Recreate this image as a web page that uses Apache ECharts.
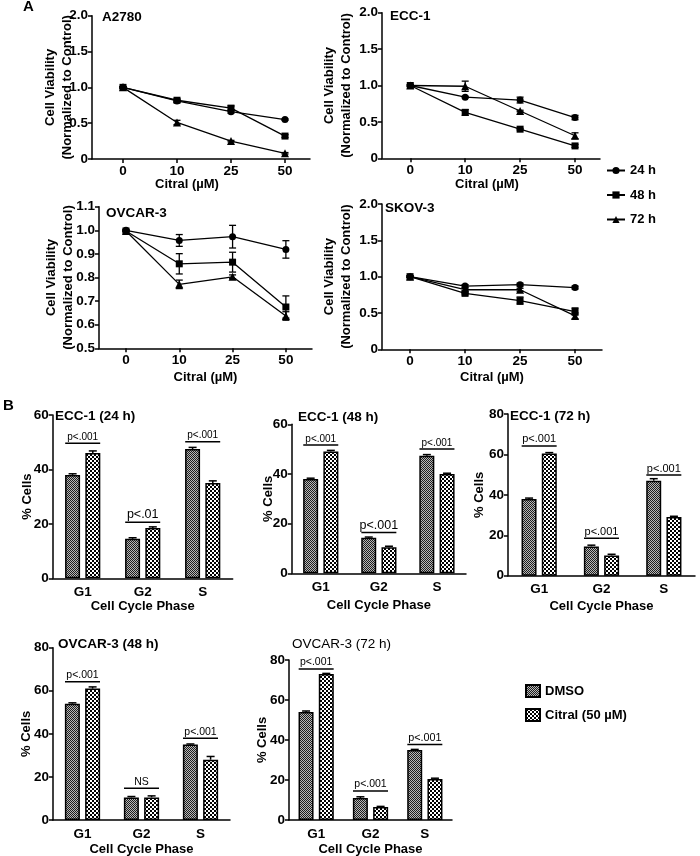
<!DOCTYPE html>
<html><head><meta charset="utf-8">
<script src="https://cdn.jsdelivr.net/npm/echarts@6/dist/echarts.min.js"></script>
<style>html,body{margin:0;padding:0;background:#fff}#c{width:700px;height:856px}</style>
</head><body><div id="c"></div>
<script>
// ---------- DATA ----------
const doses = ['0', '10', '25', '50'];
const timeNames = ['24 h', '48 h', '72 h'];
const phases = ['G1', 'G2', 'S'];
const treatNames = ['DMSO', 'Citral (50 µM)'];

// Panel A: cell viability (normalized to control)
const a2780_24h = [1.00, 0.81, 0.66, 0.55];
const a2780_48h = [1.00, 0.82, 0.71, 0.32];
const a2780_72h = [1.00, 0.51, 0.25, 0.08];
const a2780_24hErr = [0.01, 0.02, 0.02, 0.01];
const a2780_48hErr = [0.01, 0.02, 0.03, 0.02];
const a2780_72hErr = [0.01, 0.03, 0.01, 0.01];

const ecc1_24h = [1.00, 0.84, 0.80, 0.56];
const ecc1_48h = [1.00, 0.63, 0.40, 0.17];
const ecc1_72h = [1.00, 0.99, 0.65, 0.31];
const ecc1_24hErr = [0.01, 0.01, 0.04, 0.03];
const ecc1_48hErr = [0.01, 0.04, 0.01, 0.02];
const ecc1_72hErr = [0.01, 0.07, 0.01, 0.04];

const ovcar3_24h = [1.000, 0.957, 0.973, 0.919];
const ovcar3_48h = [0.997, 0.858, 0.865, 0.675];
const ovcar3_72h = [0.997, 0.771, 0.803, 0.637];
const ovcar3_24hErr = [0.003, 0.025, 0.048, 0.037];
const ovcar3_48hErr = [0.003, 0.043, 0.042, 0.047];
const ovcar3_72hErr = [0.003, 0.018, 0.008, 0.018];

const skov3_24h = [1.00, 0.87, 0.89, 0.85];
const skov3_48h = [1.00, 0.77, 0.67, 0.52];
const skov3_72h = [1.00, 0.82, 0.82, 0.46];
const skov3_24hErr = [0.01, 0.02, 0.02, 0.02];
const skov3_48hErr = [0.01, 0.02, 0.05, 0.05];
const skov3_72hErr = [0.01, 0.02, 0.02, 0.04];

// Panel B: % cells per cell-cycle phase
const ecc1_24_dmso = [38.0, 14.5, 47.5];
const ecc1_24_citral = [46.0, 18.5, 35.0];
const ecc1_24_dmsoErr = [0.4, 0.4, 0.6];
const ecc1_24_citralErr = [0.8, 0.4, 0.8];
const ecc1_24_sigY = [49.6, 20.6, 50.2];
const ecc1_24_sigText = ['p<.001', 'p<.01', 'p<.001'];

const ecc1_48_dmso = [38.0, 14.3, 47.3];
const ecc1_48_citral = [49.0, 10.5, 40.0];
const ecc1_48_dmsoErr = [0.3, 0.3, 0.5];
const ecc1_48_citralErr = [0.5, 0.4, 0.3];
const ecc1_48_sigY = [51.7, 16.4, 50.1];
const ecc1_48_sigText = ['p<.001', 'p<.001', 'p<.001'];

const ecc1_72_dmso = [38.0, 14.5, 47.0];
const ecc1_72_citral = [60.5, 10.0, 29.0];
const ecc1_72_dmsoErr = [0.4, 0.6, 1.0];
const ecc1_72_citralErr = [0.4, 0.6, 0.4];
const ecc1_72_sigY = [64.2, 18.5, 49.8];
const ecc1_72_sigText = ['p<.001', 'p<.001', 'p<.001'];

const ovcar3_48_dmso = [54.0, 10.5, 35.0];
const ovcar3_48_citral = [61.0, 10.5, 28.0];
const ovcar3_48_dmsoErr = [0.4, 0.4, 0.3];
const ovcar3_48_citralErr = [0.8, 0.7, 1.5];
const ovcar3_48_sigY = [64.2, 14.7, 37.9];
const ovcar3_48_sigText = ['p<.001', 'NS', 'p<.001'];

const ovcar3_72_dmso = [54.0, 11.0, 35.0];
const ovcar3_72_citral = [73.0, 6.5, 20.5];
const ovcar3_72_dmsoErr = [0.5, 0.6, 0.3];
const ovcar3_72_citralErr = [0.3, 0.3, 0.4];
const ovcar3_72_sigY = [75.5, 14.5, 37.8];
const ovcar3_72_sigText = ['p<.001', 'p<.001', 'p<.001'];

// ---------- LAYOUT / STYLE ----------
const FONT = "'Liberation Sans', Arial, Helvetica, sans-serif";
const bold13 = {fontFamily: FONT, fontSize: 13, fontWeight: 'bold', color: '#000'};
const tick13 = {fontFamily: FONT, fontSize: 13.5, fontWeight: 'bold', color: '#000'};
const axisLineStyle = {color: '#000', width: 1.5};

const linePanels = [
  {title: 'A2780', vals: [a2780_24h, a2780_48h, a2780_72h], errs: [a2780_24hErr, a2780_48hErr, a2780_72hErr],
   box: {left: 92, top: 15.7, width: 218, height: 143.3}, xmin: -0.574, xmax: 3.463, ymin: 0, ymax: 2, yint: 0.5,
   yGap: 16, xGap: 19, xPad: [0, 28, 0, 0], tx: 102, ty: 18},
  {title: 'ECC-1', vals: [ecc1_24h, ecc1_48h, ecc1_72h], errs: [ecc1_24hErr, ecc1_48hErr, ecc1_72hErr],
   box: {left: 382, top: 12.7, width: 218, height: 145.6}, xmin: -0.515, xmax: 3.455, ymin: 0, ymax: 2, yint: 0.5,
   yGap: 27, xGap: 20, xPad: [0, 8, 0, 0], tx: 390, ty: 17.5},
  {title: 'OVCAR-3', vals: [ovcar3_24h, ovcar3_48h, ovcar3_72h], errs: [ovcar3_24hErr, ovcar3_48hErr, ovcar3_72hErr],
   box: {left: 99, top: 206.7, width: 213, height: 141.6}, xmin: -0.506, xmax: 3.49, ymin: 0.5, ymax: 1.1, yint: 0.1,
   yGap: 22, xGap: 23, xPad: [0, 0, 0, 0], tx: 106, ty: 214},
  {title: 'SKOV-3', vals: [skov3_24h, skov3_48h, skov3_72h], errs: [skov3_24hErr, skov3_48hErr, skov3_72hErr],
   box: {left: 382, top: 204, width: 220, height: 145.3}, xmin: -0.51, xmax: 3.49, ymin: 0, ymax: 2, yint: 0.5,
   yGap: 27, xGap: 22, xPad: [0, 0, 0, 0], tx: 385, ty: 209}
];

const barPanels = [
  {title: 'ECC-1 (24 h)', dmso: ecc1_24_dmso, citral: ecc1_24_citral, dErr: ecc1_24_dmsoErr, cErr: ecc1_24_citralErr,
   sigY: ecc1_24_sigY, sigText: ecc1_24_sigText, sigFont: [10, 12.5, 10],
   box: {left: 52.7, top: 415, width: 180, height: 163.3}, ymax: 60, yGap: 19, xGap: 22, tx: 55, ty: 417, tw: 'bold'},
  {title: 'ECC-1 (48 h)', dmso: ecc1_48_dmso, citral: ecc1_48_citral, dErr: ecc1_48_dmsoErr, cErr: ecc1_48_citralErr,
   sigY: ecc1_48_sigY, sigText: ecc1_48_sigText, sigFont: [10, 12.5, 10],
   box: {left: 291.7, top: 424.3, width: 174.3, height: 149}, ymax: 60, yGap: 17, xGap: 26, tx: 298, ty: 418, tw: 'bold'},
  {title: 'ECC-1 (72 h)', dmso: ecc1_72_dmso, citral: ecc1_72_citral, dErr: ecc1_72_dmsoErr, cErr: ecc1_72_citralErr,
   sigY: ecc1_72_sigY, sigText: ecc1_72_sigText, sigFont: [11, 11, 11],
   box: {left: 508, top: 414, width: 187, height: 161.7}, ymax: 80, yGap: 22, xGap: 24, tx: 510, ty: 417, tw: 'bold'},
  {title: 'OVCAR-3 (48 h)', dmso: ovcar3_48_dmso, citral: ovcar3_48_citral, dErr: ovcar3_48_dmsoErr, cErr: ovcar3_48_citralErr,
   sigY: ovcar3_48_sigY, sigText: ovcar3_48_sigText, sigFont: [10.5, 10.5, 10.5],
   box: {left: 53, top: 647.7, width: 177, height: 172.3}, ymax: 80, yGap: 20, xGap: 23, tx: 58, ty: 645, tw: 'bold'},
  {title: 'OVCAR-3 (72 h)', dmso: ovcar3_72_dmso, citral: ovcar3_72_citral, dErr: ovcar3_72_dmsoErr, cErr: ovcar3_72_citralErr,
   sigY: ovcar3_72_sigY, sigText: ovcar3_72_sigText, sigFont: [10.5, 10.5, 10.8],
   box: {left: 289, top: 660, width: 163, height: 160}, ymax: 80, yGap: 20, xGap: 23, tx: 292, ty: 645, tw: 'normal'}
];

const symbols = ['circle', 'rect', 'triangle'];
const symSizes = [7, 7, 8];
const BAR_W = 15, BAR_GAP = '35%', PAIR_OFF = 10.1;

function makePattern(cell, size, a, b) {
  const c = document.createElement('canvas');
  c.width = c.height = size;
  const g = c.getContext('2d');
  for (let y = 0; y < size; y++) for (let x = 0; x < size; x++) {
    g.fillStyle = (((x / cell | 0) + (y / cell | 0)) % 2 === 0) ? a : b;
    g.fillRect(x, y, 1, 1);
  }
  return c;
}
const patDMSO = {image: makePattern(1, 2, '#1e1e1e', '#b8b8b8'), repeat: 'repeat'};
const patCitral = {image: makePattern(2, 4, '#000', '#fff'), repeat: 'repeat'};

function errRender(params, api) {
  const x = api.value(0), y = api.value(1), e = api.value(2);
  const t = api.coord([x, y + e]), b = api.coord([x, y - e]);
  const w = 3.5, st = {stroke: '#000', lineWidth: 1.3};
  return {type: 'group', children: [
    {type: 'line', shape: {x1: t[0], y1: t[1], x2: b[0], y2: b[1]}, style: st},
    {type: 'line', shape: {x1: t[0] - w, y1: t[1], x2: t[0] + w, y2: t[1]}, style: st},
    {type: 'line', shape: {x1: b[0] - w, y1: b[1], x2: b[0] + w, y2: b[1]}, style: st}
  ]};
}
function barErrRender(params, api) {
  const x = api.value(0), y = api.value(1), e = api.value(2), side = api.value(3);
  const p0 = api.coord([x, y]), p1 = api.coord([x, y + e]);
  const cx = p0[0] + side * PAIR_OFF, w = 4, st = {stroke: '#000', lineWidth: 1.5};
  return {type: 'group', children: [
    {type: 'line', shape: {x1: cx, y1: p0[1], x2: cx, y2: p1[1]}, style: st},
    {type: 'line', shape: {x1: cx - w, y1: p1[1], x2: cx + w, y2: p1[1]}, style: st}
  ]};
}

const grids = [], xAxes = [], yAxes = [], series = [], titles = [];
titles.push({text: 'A', left: 23, top: -1, padding: 0, textStyle: {fontFamily: FONT, fontSize: 15, fontWeight: 'bold', color: '#000'}});
titles.push({text: 'B', left: 3, top: 398, padding: 0, textStyle: {fontFamily: FONT, fontSize: 15, fontWeight: 'bold', color: '#000'}});

linePanels.forEach((p, i) => {
  grids.push(Object.assign({outerBoundsMode: 'none', containLabel: false}, p.box));
  titles.push({text: p.title, left: p.tx, top: p.ty - 8, padding: 0, textStyle: Object.assign({}, bold13, {fontSize: 13.5})});
  xAxes.push({
    type: 'value', gridIndex: i, min: p.xmin, max: p.xmax,
    axisLine: {show: true, onZero: false, lineStyle: axisLineStyle},
    axisTick: {show: true, length: 4, customValues: [0, 1, 2, 3], lineStyle: axisLineStyle},
    axisLabel: Object.assign({customValues: [0, 1, 2, 3], margin: 5, formatter: v => doses[Math.round(v)]}, tick13),
    splitLine: {show: false},
    name: 'Citral (µM)', nameLocation: 'middle', nameGap: p.xGap, nameMoveOverlap: false,
    nameTextStyle: Object.assign({padding: p.xPad}, bold13)
  });
  yAxes.push({
    type: 'value', gridIndex: i, min: p.ymin, max: p.ymax, interval: p.yint,
    axisLine: {show: true, onZero: false, lineStyle: axisLineStyle},
    axisTick: {show: true, length: 4, lineStyle: axisLineStyle},
    axisLabel: Object.assign({margin: 4, formatter: v => (v === 0 ? '0' : v.toFixed(1))}, tick13),
    splitLine: {show: false},
    name: 'Cell Viability\n(Normalized to Control)', nameLocation: 'middle', nameRotate: 90, nameGap: p.yGap,
    nameMoveOverlap: false,
    nameTextStyle: Object.assign({lineHeight: 17}, bold13)
  });
  p.vals.forEach((vals, k) => {
    series.push({
      type: 'line', name: timeNames[k], xAxisIndex: i, yAxisIndex: i,
      data: vals.map((v, j) => [j, v]),
      symbol: symbols[k], symbolSize: symSizes[k],
      itemStyle: {color: '#000'}, lineStyle: {color: '#000', width: 1.3}, z: 3
    });
    series.push({
      type: 'custom', xAxisIndex: i, yAxisIndex: i, silent: true, z: 4,
      data: vals.map((v, j) => [j, v, p.errs[k][j]]), renderItem: errRender
    });
  });
});

barPanels.forEach((p, j) => {
  const gi = linePanels.length + j;
  grids.push(Object.assign({outerBoundsMode: 'none', containLabel: false}, p.box));
  titles.push({text: p.title, left: p.tx, top: p.ty - 8, padding: 0, textStyle: Object.assign({}, bold13, {fontSize: 13.5, fontWeight: p.tw})});
  xAxes.push({
    type: 'category', gridIndex: gi, data: phases,
    axisLine: {show: true, onZero: false, lineStyle: axisLineStyle},
    axisTick: {show: false},
    axisLabel: Object.assign({margin: 7}, tick13),
    name: 'Cell Cycle Phase', nameLocation: 'middle', nameGap: p.xGap, nameMoveOverlap: false, nameTextStyle: bold13
  });
  yAxes.push({
    type: 'value', gridIndex: gi, min: 0, max: p.ymax, interval: 20,
    axisLine: {show: true, onZero: false, lineStyle: axisLineStyle},
    axisTick: {show: true, length: 4, lineStyle: axisLineStyle},
    axisLabel: Object.assign({margin: 4}, tick13),
    splitLine: {show: false},
    name: '% Cells', nameLocation: 'middle', nameRotate: 90, nameGap: p.yGap, nameMoveOverlap: false, nameTextStyle: bold13
  });
  series.push({
    type: 'bar', name: treatNames[0], xAxisIndex: gi, yAxisIndex: gi, data: p.dmso,
    barWidth: BAR_W, barGap: BAR_GAP,
    itemStyle: {color: patDMSO, borderColor: '#000', borderWidth: 1.5}
  });
  series.push({
    type: 'bar', name: treatNames[1], xAxisIndex: gi, yAxisIndex: gi, data: p.citral,
    barWidth: BAR_W, barGap: BAR_GAP,
    itemStyle: {color: patCitral, borderColor: '#000', borderWidth: 1.5}
  });
  series.push({
    type: 'custom', xAxisIndex: gi, yAxisIndex: gi, silent: true, z: 5, renderItem: barErrRender,
    data: p.dmso.map((v, c) => [c, v, p.dErr[c], -1]).concat(p.citral.map((v, c) => [c, v, p.cErr[c], 1]))
  });
  series.push({
    type: 'custom', xAxisIndex: gi, yAxisIndex: gi, silent: true, z: 5,
    data: p.sigY.map((y, c) => [c, y]),
    renderItem: (params, api) => {
      const pt = api.coord([api.value(0), api.value(1)]);
      const hs = 17.5;
      return {type: 'group', children: [
        {type: 'line', shape: {x1: pt[0] - hs, y1: pt[1], x2: pt[0] + hs, y2: pt[1]}, style: {stroke: '#000', lineWidth: 1.5}},
        {type: 'text', x: pt[0], y: pt[1] - 1, style: {text: p.sigText[params.dataIndex], fill: '#000',
          font: p.sigFont[params.dataIndex] + 'px ' + FONT, textAlign: 'center', textVerticalAlign: 'bottom'}}
      ]};
    }
  });
});

const chart = echarts.init(document.getElementById('c'), null, {renderer: 'canvas'});
chart.setOption({
  animation: false,
  backgroundColor: '#fff',
  title: titles,
  grid: grids,
  xAxis: xAxes,
  yAxis: yAxes,
  legend: [
    {data: timeNames, orient: 'vertical', left: 606, top: 164, itemWidth: 18, itemHeight: 9, itemGap: 11.5,
     selectedMode: false, padding: 0, textStyle: bold13},
    {data: treatNames, orient: 'vertical', left: 525, top: 684, itemWidth: 14, itemHeight: 12, itemGap: 10,
     icon: 'rect', selectedMode: false, padding: 0, textStyle: bold13}
  ],
  series: series
});
</script>
</body></html>
